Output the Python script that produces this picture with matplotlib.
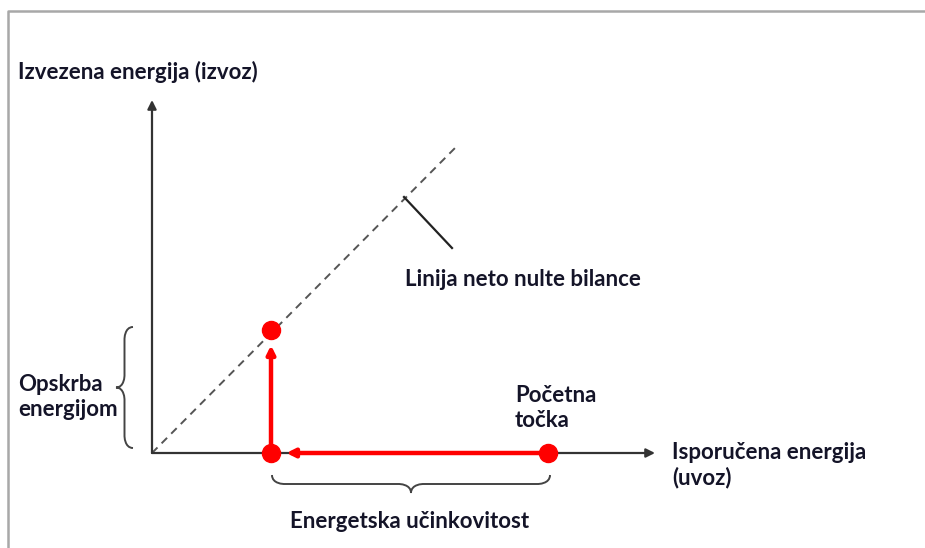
import matplotlib.pyplot as plt
from matplotlib.path import Path
from matplotlib.patches import PathPatch

# diagram units: origin of the axes at (0, 0), 1 unit = 100 px
x_axis_end = 5.03
y_axis_end = 3.53
net_zero_x = [0, 3.05]
net_zero_y = [0, 3.07]

start_point = (3.96, 0.0)       # Početna točka
efficiency_point = (1.19, 0.0)  # after energy efficiency
supply_point = (1.19, 1.23)     # after energy supply

labels = {
    "export": "Izvezena energija (izvoz)",
    "import": "Isporučena energija\n(uvoz)",
    "netzero": "Linija neto nulte bilance",
    "supply": "Opskrba\nenergijom",
    "start": "Početna\ntočka",
    "efficiency": "Energetska učinkovitost",
}

plt.rcParams['font.family'] = ['Lato', 'DejaVu Sans']

fig = plt.figure(figsize=(9.25, 5.48), dpi=100)
ax = fig.add_axes([0, 0, 1, 1])
ax.set_xlim(-1.52, 7.73)
ax.set_ylim(-0.95, 4.53)
ax.axis('off')

# screenshot frame
ax.plot([-1.44, -1.44, 7.73], [-0.95, 4.42, 4.42], color='#a8a8a8', lw=1.8,
        solid_capstyle='butt')


def arrow(p0, p1, color, lw, shrink=0, scale=14):
    ax.annotate("", xy=p1, xytext=p0,
                arrowprops=dict(arrowstyle="-|>", color=color, lw=lw,
                                shrinkA=0, shrinkB=shrink, mutation_scale=scale))


def brace(p0, p1, depth, color='#444444'):
    # curly brace from p0 to p1, tip goes to the left of p0->p1 for depth > 0
    (x0, y0), (x1, y1) = p0, p1
    dx, dy = x1 - x0, y1 - y0
    n = (dx ** 2 + dy ** 2) ** 0.5
    ux, uy = dx / n, dy / n
    nx, ny = -uy * depth, ux * depth

    def pt(t, s):
        return (x0 + ux * n * t + nx * s, y0 + uy * n * t + ny * s)

    r = 0.12 / n
    verts = [pt(0, 0), pt(0, 0.5), pt(r, 0.5), pt(r, 0.5),
             pt(0.5 - r, 0.5), pt(0.5 - r, 0.5), pt(0.5, 0.5), pt(0.5, 1),
             pt(0.5, 0.5), pt(0.5 + r, 0.5), pt(0.5 + r, 0.5),
             pt(1 - r, 0.5), pt(1 - r, 0.5), pt(1, 0.5), pt(1, 0)]
    codes = [Path.MOVETO, Path.CURVE4, Path.CURVE4, Path.CURVE4,
             Path.LINETO, Path.CURVE4, Path.CURVE4, Path.CURVE4,
             Path.CURVE4, Path.CURVE4, Path.CURVE4,
             Path.LINETO, Path.CURVE4, Path.CURVE4, Path.CURVE4]
    ax.add_patch(PathPatch(Path(verts, codes), fill=False, edgecolor=color, lw=1.4))


# axes
arrow((0, 0), (x_axis_end, 0), '#333333', 1.6, scale=13)
arrow((0, 0), (0, y_axis_end), '#333333', 1.6, scale=13)

# net zero balance line and its pointer
ax.plot(net_zero_x, net_zero_y, color='#555555', lw=1.4, dashes=(4, 3))
ax.plot([2.52, 3.00], [2.56, 2.05], color='#222222', lw=1.6)

# red path: efficiency then supply
arrow(start_point, efficiency_point, 'red', 3.2, shrink=11, scale=12)
arrow(efficiency_point, supply_point, 'red', 3.2, shrink=11, scale=12)
px, py = zip(start_point, efficiency_point, supply_point)
ax.plot(px, py, 'o', color='red', ms=13, zorder=5)

# braces
brace((-0.19, 0.05), (-0.19, 1.26), 0.17)
brace((1.20, -0.22), (3.98, -0.22), -0.18)

txt = dict(fontsize=16, fontweight='bold', color='#141428', linespacing=1.22)
ax.text(-1.34, 3.81, labels["export"], va='center', ha='left', **txt)
ax.text(2.53, 1.73, labels["netzero"], va='center', ha='left', **txt)
ax.text(-1.34, 0.56, labels["supply"], va='center', ha='left', **txt)
ax.text(3.63, 0.45, labels["start"], va='center', ha='left', **txt)
ax.text(5.20, -0.12, labels["import"], va='center', ha='left', **txt)
ax.text(2.58, -0.69, labels["efficiency"], va='center', ha='center', **txt)

fig.savefig("out.png", dpi=100)
